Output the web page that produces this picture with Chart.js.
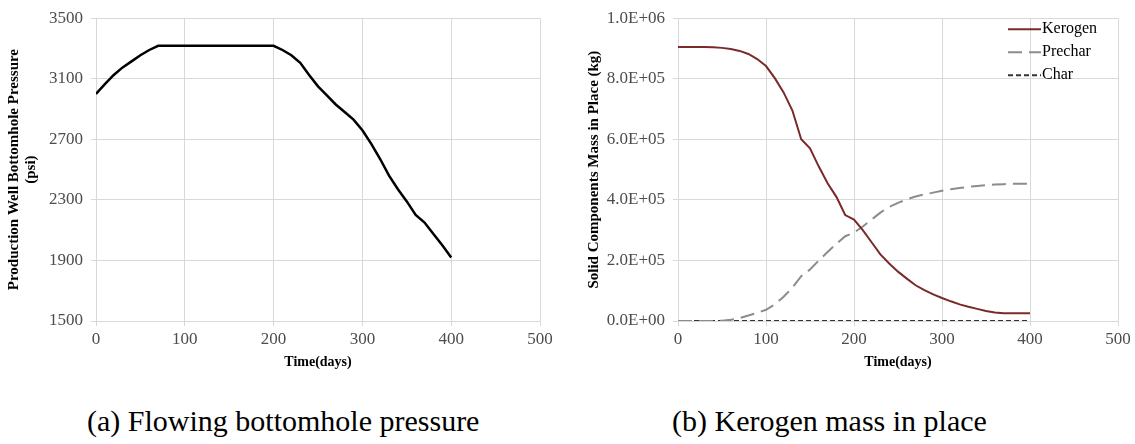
<!DOCTYPE html>
<html>
<head>
<meta charset="utf-8">
<script src="https://cdn.jsdelivr.net/npm/chart.js@4.4.1/dist/chart.umd.min.js"></script>
<style>
  html, body { margin: 0; padding: 0; background: #fff; }
  #wrap { position: relative; width: 1135px; height: 444px; overflow: hidden; }
  .box { position: absolute; top: 0; height: 375px; }
  #boxA { left: 0; width: 560px; }
  #boxB { left: 580px; width: 555px; }
  .cap { position: absolute; top: 404px; font-family: "Liberation Serif", serif; font-size: 30px; line-height: 34px; color: #000; white-space: nowrap; }
  #capA { left: 87px; }
  #capB { left: 672px; }
</style>
</head>
<body>
<div id="wrap">
  <div class="box" id="boxA"><canvas id="pressChart"></canvas></div>
  <div class="box" id="boxB"><canvas id="massChart"></canvas></div>
  <div class="cap" id="capA">(a) Flowing bottomhole pressure</div>
  <div class="cap" id="capB">(b) Kerogen mass in place</div>
</div>
<script>
// ── Data ──────────────────────────────────────────────────────────────────────
const days = [0, 10, 20, 30, 40, 50, 60, 70, 80, 90, 100, 110, 120, 130, 140, 150, 160, 170, 180, 190, 200,
              210, 220, 230, 240, 250, 260, 270, 280, 290, 300, 310, 320, 330, 340, 350, 360, 370, 380, 390, 400];

const pressure = [3000, 3065, 3125, 3175, 3215, 3255, 3290, 3318, 3318, 3318, 3318, 3318, 3318, 3318, 3318, 3318, 3318, 3318, 3318, 3318, 3318,
                  3290, 3255, 3205, 3125, 3050, 2990, 2930, 2880, 2830, 2760, 2670, 2570, 2460, 2370, 2290, 2200, 2150, 2075, 2000, 1920];

const kerogen = [905000, 905000, 905000, 905000, 904000, 902000, 898000, 892000, 882000, 865000, 842000, 802000, 755000, 695000, 600000,
                 570000, 510000, 455000, 410000, 350000, 335000, 300000, 260000, 220000, 190000, 163000, 140000, 118000, 102000, 88000,
                 76000, 65000, 55000, 47000, 40000, 33000, 28000, 26000, 26000, 26000, 26000];

const prechar = [0, 0, 0, 0, 0, 1000, 4000, 10000, 18000, 27000, 37000, 55000, 80000, 110000, 148000, 170000, 200000, 228000, 255000,
                 280000, 292000, 312000, 335000, 358000, 377000, 390000, 402000, 411000, 418000, 424000, 430000, 435000, 439000, 443000,
                 446000, 449000, 451000, 452000, 453000, 453000, 453000];

const charMass = [0, 0, 0, 0, 0, 0, 0, 0, 0, 0, 0, 0, 0, 0, 0, 0, 0, 0, 0, 0, 0,
                  0, 0, 0, 0, 0, 0, 0, 0, 0, 0, 0, 0, 0, 0, 0, 0, 0, 0, 0, 0];

const seriesNames = ["Kerogen", "Prechar", "Char"];

// ── Shared styling ────────────────────────────────────────────────────────────
const SERIF = "'Liberation Serif', 'Times New Roman', serif";
const GRID  = "#d9d9d9";
const TICK  = "#4d4d4d";

Chart.defaults.font.family = SERIF;
Chart.defaults.animation = false;

const tickFont  = { family: SERIF, size: 17 };
const titleFont = { family: SERIF, size: 15, weight: "bold", lineHeight: 1.1 };

const pts = (ys) => days.map((d, i) => ({ x: d, y: ys[i] }));

function sciLabel(v) {
  if (v === 0) return "0.0E+00";
  const e = Math.floor(Math.log10(Math.abs(v)));
  const m = v / Math.pow(10, e);
  return m.toFixed(1) + "E+" + String(e).padStart(2, "0");
}

function xScale() {
  return {
    type: "linear", min: 0, max: 500,
    ticks: { stepSize: 100, color: TICK, font: tickFont, padding: 3, maxRotation: 0, callback: (v) => String(v) },
    grid: { color: GRID, tickLength: 5 },
    border: { color: GRID },
    title: { display: true, text: "Time(days)", color: "#000", font: { family: SERIF, size: 14, weight: "bold" }, padding: { top: 0 } },
    afterFit: (s) => { s.height = 54; },
  };
}

function baseOptions(yScale, padRight) {
  return {
    responsive: true,
    maintainAspectRatio: false,
    layout: { padding: { top: 15, right: padRight, left: 0, bottom: 0 } },
    plugins: { legend: { display: false }, tooltip: { enabled: false } },
    elements: { point: { radius: 0 }, line: { tension: 0 } },
    scales: { x: xScale(), y: yScale },
  };
}

// ── In-plot legend (top right, like Excel) ────────────────────────────────────
const innerLegend = {
  id: "innerLegend",
  afterDraw(chart) {
    const ctx = chart.ctx;
    const right = chart.chartArea.right;
    ctx.save();
    ctx.font = "16px " + SERIF;
    ctx.textBaseline = "middle";
    chart.data.datasets.forEach((ds, i) => {
      const y = chart.chartArea.top + 11 + i * 23;
      const x0 = right - 110;
      ctx.strokeStyle = ds.borderColor;
      ctx.lineWidth = ds.borderWidth;
      ctx.setLineDash(ds.borderDash || []);
      ctx.beginPath();
      ctx.moveTo(x0, y);
      ctx.lineTo(x0 + 33, y);
      ctx.stroke();
      ctx.setLineDash([]);
      ctx.fillStyle = "#000";
      ctx.fillText(ds.label, x0 + 34, y);
    });
    ctx.restore();
  },
};

// ── (a) Pressure chart ────────────────────────────────────────────────────────
new Chart(document.getElementById("pressChart"), {
  type: "line",
  data: {
    datasets: [{
      label: "Pressure",
      data: pts(pressure),
      borderColor: "#000",
      borderWidth: 2.5,
    }],
  },
  options: baseOptions({
    type: "linear", min: 1500, max: 3500,
    ticks: { stepSize: 400, color: TICK, font: tickFont, padding: 8, callback: (v) => String(v) },
    grid: { color: GRID, tickLength: 5 },
    border: { color: GRID },
    title: { display: true, text: ["Production Well Bottomhole Pressure", "(psi)"], color: "#000",
             font: titleFont, padding: { top: 6, bottom: 0 } },
    afterFit: (s) => { s.width = 96; },
  }, 20),
});

// ── (b) Solid components mass chart ───────────────────────────────────────────
new Chart(document.getElementById("massChart"), {
  type: "line",
  data: {
    datasets: [
      { label: seriesNames[0], data: pts(kerogen),  borderColor: "#7b2a2a", borderWidth: 2 },
      { label: seriesNames[1], data: pts(prechar),  borderColor: "#8c8c8c", borderWidth: 2, borderDash: [14, 7] },
      { label: seriesNames[2], data: pts(charMass), borderColor: "#333333", borderWidth: 2, borderDash: [5, 3] },
    ],
  },
  options: baseOptions({
    type: "linear", min: 0, max: 1000000,
    ticks: { stepSize: 200000, color: TICK, font: tickFont, padding: 8, callback: (v) => sciLabel(v) },
    grid: { color: GRID, tickLength: 5 },
    border: { color: GRID },
    title: { display: true, text: "Solid Components Mass in Place (kg)", color: "#000",
             font: titleFont, padding: { top: 6, bottom: 0 } },
    afterFit: (s) => { s.width = 98; },
  }, 17),
  plugins: [innerLegend],
});
</script>
</body>
</html>
